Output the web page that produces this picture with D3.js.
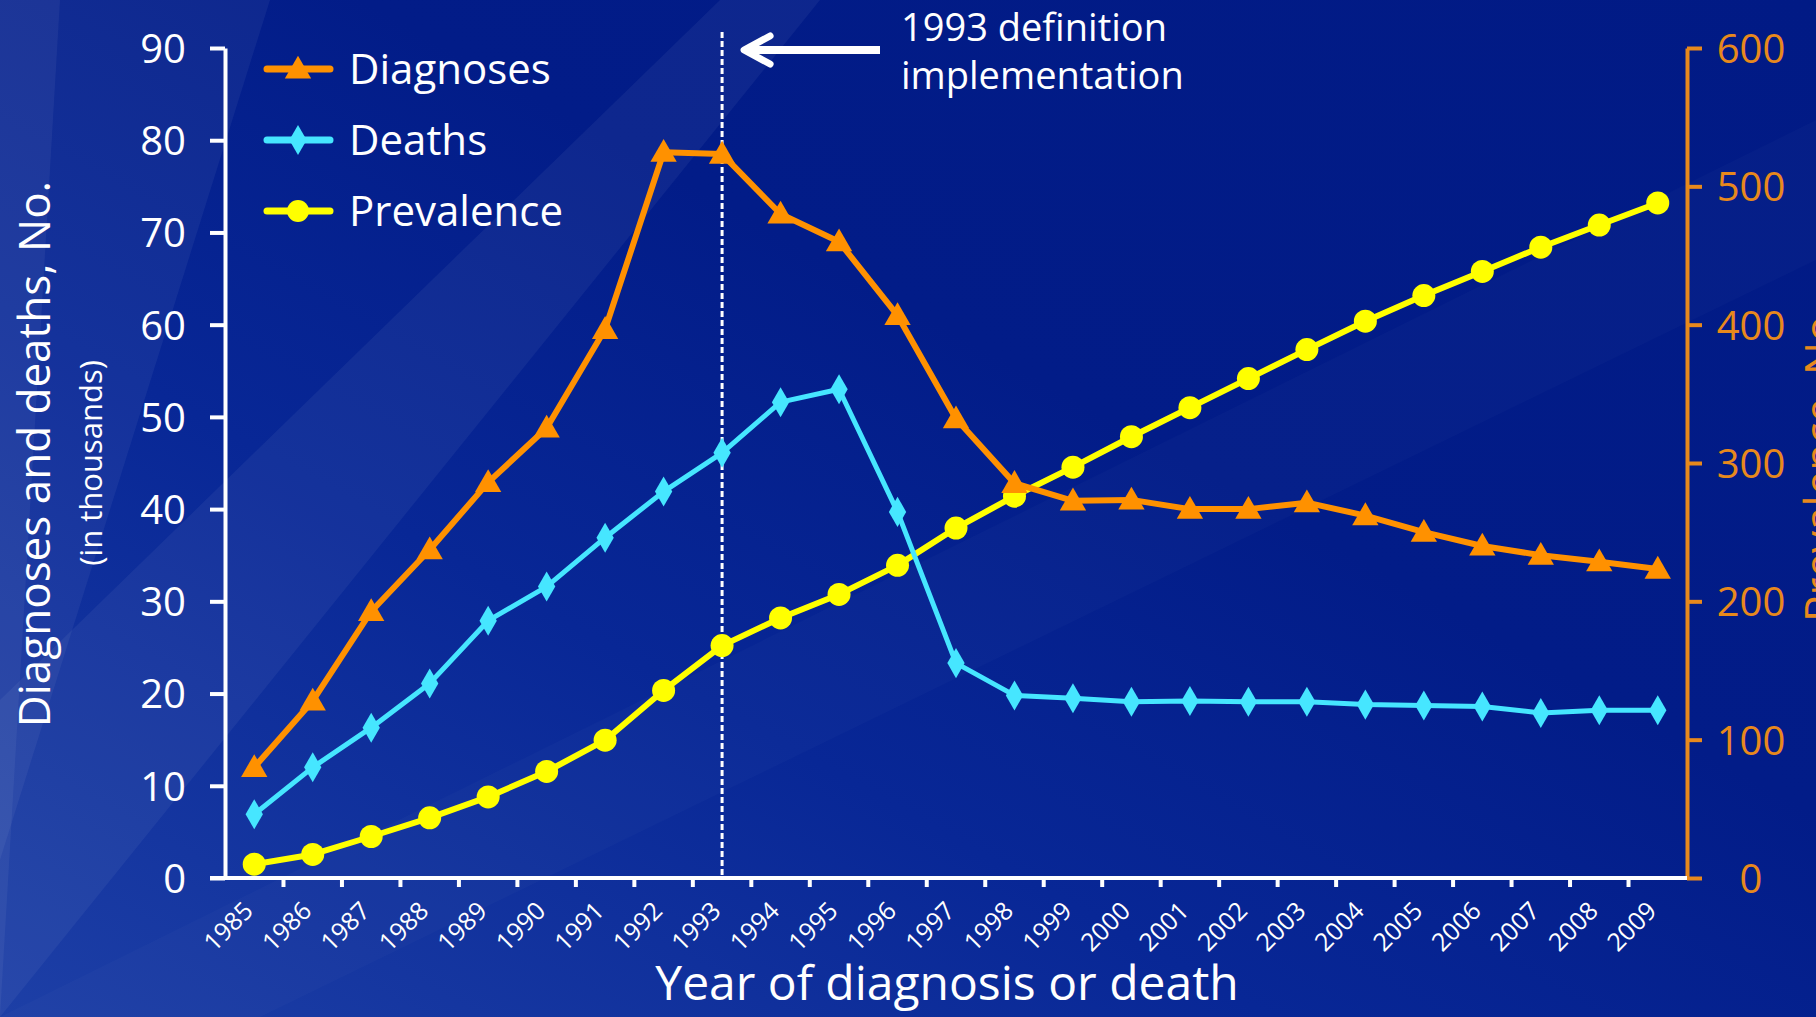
<!DOCTYPE html>
<html>
<head>
<meta charset="utf-8">
<script src="https://cdn.jsdelivr.net/npm/d3@7"></script>
<style>
  html, body { margin: 0; padding: 0; background: #021B87; overflow: hidden; }
  svg { display: block; }
  text { font-family: "Open Sans", "Noto Sans", sans-serif; }
</style>
</head>
<body>
<svg id="chart" width="1816" height="1017"></svg>
<script>
// ---- Data ----
const years = [1985,1986,1987,1988,1989,1990,1991,1992,1993,1994,1995,1996,1997,
               1998,1999,2000,2001,2002,2003,2004,2005,2006,2007,2008,2009];
// Diagnoses, thousands (left axis)
const diagnoses = [12.0,19.2,28.9,35.6,42.9,48.8,59.5,78.7,78.5,72.0,69.0,61.0,49.8,
                   42.8,40.9,41.0,40.0,40.0,40.7,39.3,37.5,36.0,35.0,34.3,33.5];
// Deaths, thousands (left axis)
const deaths = [6.9,12.0,16.3,21.1,27.9,31.6,36.9,41.9,46.1,51.6,53.0,39.7,23.3,
                19.8,19.5,19.1,19.2,19.1,19.1,18.8,18.7,18.6,17.9,18.2,18.2];
// Prevalence, thousands (right axis)
const prevalence = [10,17,30,43.5,58.6,77,99.6,135.6,168,188,205,226,253,
                    276,297,319,340,361,382,402.5,421,438.5,456,472,488];
const leftTicks = [0,10,20,30,40,50,60,70,80,90];
const rightTicks = [0,100,200,300,400,500,600];
const seriesNames = ["Diagnoses","Deaths","Prevalence"];
const seriesColors = ["#FF9100","#46E6FF","#FFFF00"];
const annotationLines = ["1993 definition","implementation"];
const annotationYear = 1993;
const yTitle = "Diagnoses and deaths, No.";
const ySubTitle = "(in thousands)";
const y2Title = "Prevalence, No.";
const xTitle = "Year of diagnosis or death";

// ---- Layout ----
const svg = d3.select("#chart");
const W = 1816, H = 1017;
const m = {left: 225, right: 1687, top: 48, bottom: 878};
const axisOrange = "#E8891C";

// background
const defs = svg.append("defs");
const bg = defs.append("linearGradient").attr("id","bg").attr("x1","0").attr("y1","1").attr("x2","1").attr("y2","0");
bg.append("stop").attr("offset","0").attr("stop-color","#1D3FA6");
bg.append("stop").attr("offset","0.35").attr("stop-color","#082796");
bg.append("stop").attr("offset","0.6").attr("stop-color","#021C88");
bg.append("stop").attr("offset","1").attr("stop-color","#011A85");
svg.append("rect").attr("width",W).attr("height",H).attr("fill","url(#bg)");
// soft diagonal streaks
const streaks = [
  {pts:[[0,0],[270,0],[0,860]], o:0.05},
  {pts:[[0,1017],[0,700],[720,0],[820,0]], o:0.05},
  {pts:[[0,1017],[260,1017],[1816,260],[1816,120]], o:0.02},
  {pts:[[0,1017],[0,0],[60,0]], o:0.05}
];
svg.append("g").selectAll("path").data(streaks).join("path")
  .attr("d", d => "M" + d.pts.map(p => p.join(",")).join("L") + "Z")
  .attr("fill", "#ffffff").attr("opacity", d => d.o);

// scales
const x = d3.scaleBand().domain(years).range([m.left, m.right]).padding(0);
const y = d3.scaleLinear().domain([0, 90]).range([m.bottom, m.top]);
const y2 = d3.scaleLinear().domain([0, 600]).range([m.bottom, m.top]);
const cx = d => x(d) + x.bandwidth() / 2;

// left axis
const gL = svg.append("g").attr("transform", `translate(${m.left},0)`)
  .call(d3.axisLeft(y).tickValues(leftTicks).tickSize(15).tickSizeOuter(0).tickPadding(24));
gL.select(".domain").attr("stroke","#fff").attr("stroke-width",4);
gL.selectAll(".tick line").attr("stroke","#fff").attr("stroke-width",4);
gL.selectAll(".tick text").attr("fill","#fff").style("font-size","40px")
  .style("font-family","'Open Sans', sans-serif").attr("dy","0.36em");

// right axis
const gR = svg.append("g").attr("transform", `translate(${m.right},0)`)
  .call(d3.axisRight(y2).tickValues(rightTicks).tickSize(15).tickSizeOuter(0).tickPadding(0));
gR.select(".domain").attr("stroke",axisOrange).attr("stroke-width",4);
gR.selectAll(".tick line").attr("stroke",axisOrange).attr("stroke-width",4);
gR.selectAll(".tick text").attr("fill",axisOrange).style("font-size","40px")
  .style("font-family","'Open Sans', sans-serif").attr("text-anchor","middle")
  .attr("x", 64).attr("dy","0.36em");

// bottom axis: line, boundary ticks, rotated labels
const gB = svg.append("g");
gB.append("line").attr("x1", m.left - 15).attr("x2", m.right).attr("y1", m.bottom).attr("y2", m.bottom)
  .attr("stroke","#fff").attr("stroke-width",4);
gB.selectAll("line.bt").data(years.slice(0, -1)).join("line").attr("class","bt")
  .attr("x1", d => x(d) + x.bandwidth()).attr("x2", d => x(d) + x.bandwidth())
  .attr("y1", m.bottom).attr("y2", m.bottom + 9)
  .attr("stroke","#fff").attr("stroke-width",4);
gB.selectAll("text.yl").data(years).join("text").attr("class","yl")
  .attr("transform", d => `translate(${cx(d) - 12},${m.bottom + 22}) rotate(-45)`)
  .attr("text-anchor","end").attr("dy","0.7em")
  .attr("fill","#fff").style("font-size","25px").text(d => d);

// titles
svg.append("text").attr("transform", `translate(50,454) rotate(-90)`)
  .attr("text-anchor","middle").attr("fill","#fff").style("font-size","44px").text(yTitle);
svg.append("text").attr("transform", `translate(102,463) rotate(-90)`)
  .attr("text-anchor","middle").attr("fill","#fff").style("font-size","31px").text(ySubTitle);
svg.append("text").attr("transform", `translate(1836,463) rotate(-90)`)
  .attr("text-anchor","middle").attr("fill",axisOrange).style("font-size","44px").text(y2Title);
svg.append("text").attr("x", 947).attr("y", 1000)
  .attr("text-anchor","middle").attr("fill","#fff").style("font-size","48px").text(xTitle);

// 1993 dashed line + annotation
svg.append("line").attr("x1", cx(annotationYear)).attr("x2", cx(annotationYear))
  .attr("y1", 32).attr("y2", m.bottom)
  .attr("stroke","#fff").attr("stroke-width",3).attr("stroke-dasharray","6,3");
const ax0 = cx(annotationYear) + 20;
svg.append("line").attr("x1", ax0 + 6).attr("x2", 880).attr("y1", 50).attr("y2", 50)
  .attr("stroke","#fff").attr("stroke-width",8);
svg.append("path").attr("d", `M${ax0 + 28},36 L${ax0 + 2},50 L${ax0 + 28},64`)
  .attr("fill","none").attr("stroke","#fff").attr("stroke-width",7)
  .attr("stroke-linecap","round").attr("stroke-linejoin","round");
svg.append("g").selectAll("text").data(annotationLines).join("text")
  .attr("x", 901).attr("y", (d, i) => 41 + i * 48)
  .attr("fill","#fff").style("font-size","38px").text(d => d);

// marker shapes
const triSym = d3.symbol().type(d3.symbolTriangle).size(300);
const diaSym = d3.symbol().type(d3.symbolDiamond).size(260);
const markerPath = [triSym(), diaSym(), null];

const series = [
  {name: seriesNames[0], vals: diagnoses, sc: y, color: seriesColors[0], w: 6, kind: 0},
  {name: seriesNames[1], vals: deaths, sc: y, color: seriesColors[1], w: 5, kind: 1},
  {name: seriesNames[2], vals: prevalence, sc: y2, color: seriesColors[2], w: 6, kind: 2}
];

const drawOrder = [2, 1, 0];
drawOrder.forEach(i => {
  const s = series[i];
  const line = d3.line().x((d, j) => cx(years[j])).y(d => s.sc(d));
  const g = svg.append("g");
  g.append("path").attr("d", line(s.vals)).attr("fill","none")
    .attr("stroke", s.color).attr("stroke-width", s.w).attr("stroke-linejoin","round");
  const pts = g.selectAll("g.pt").data(s.vals).join("g").attr("class","pt")
    .attr("transform", (d, j) => `translate(${cx(years[j])},${s.sc(d) + (s.kind === 0 ? 2 : 0)})`);
  if (s.kind === 2) pts.append("circle").attr("r", 11.5).attr("fill", s.color);
  else pts.append("path").attr("d", markerPath[s.kind]).attr("fill", s.color);
});

// legend
const lg = svg.append("g");
series.forEach((s, i) => {
  const yy = 69 + i * 71;
  lg.append("line").attr("x1", 267).attr("x2", 330).attr("y1", yy).attr("y2", yy)
    .attr("stroke", s.color).attr("stroke-width", 7).attr("stroke-linecap","round");
  if (s.kind === 2) lg.append("circle").attr("cx", 298).attr("cy", yy).attr("r", 11).attr("fill", s.color);
  else lg.append("path").attr("transform", `translate(298,${yy + (s.kind === 0 ? 2 : 0)})`)
    .attr("d", markerPath[s.kind]).attr("fill", s.color);
  lg.append("text").attr("x", 349).attr("y", yy + 15).attr("fill","#fff")
    .style("font-size","42px").text(s.name);
});
</script>
</body>
</html>
